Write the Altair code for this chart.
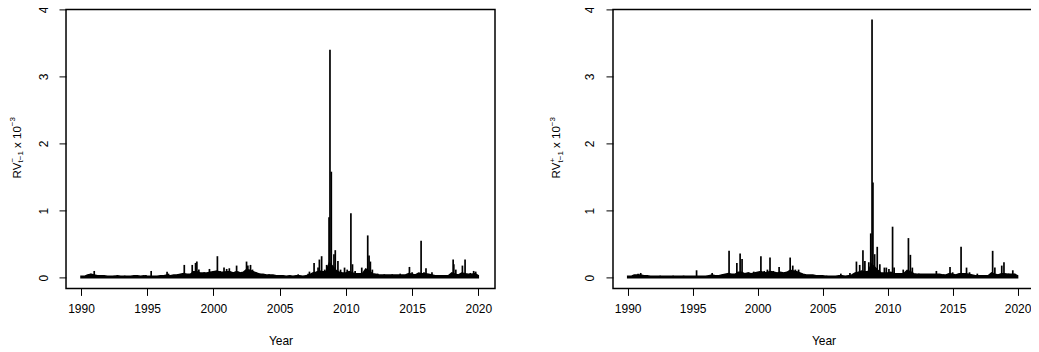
import altair as alt
import pandas as pd

# ---------------- data ----------------
YEAR_TICKS = [1990, 1995, 2000, 2005, 2010, 2015, 2020]
Y_TICKS = [0, 1, 2, 3, 4]

# quarterly envelope of the dense daily band (x 10^-3), 1990Q1 .. 2020Q1
NEG_ENV = [
    0.02, 0.02, 0.04, 0.05,  0.04, 0.03, 0.03, 0.03,  0.02, 0.02, 0.02, 0.03,
    0.02, 0.02, 0.02, 0.02,  0.03, 0.03, 0.02, 0.03,  0.02, 0.02, 0.02, 0.02,
    0.03, 0.03, 0.04, 0.03,  0.04, 0.04, 0.05, 0.06,  0.05, 0.05, 0.09, 0.09,
    0.07, 0.07, 0.07, 0.08,  0.09, 0.10, 0.08, 0.08,  0.09, 0.09, 0.07, 0.09,
    0.07, 0.08, 0.12, 0.11,  0.09, 0.07, 0.05, 0.05,  0.04, 0.04, 0.04, 0.03,
    0.03, 0.03, 0.02, 0.03,  0.02, 0.03, 0.03, 0.02,  0.03, 0.04, 0.07, 0.08,
    0.10, 0.09, 0.09, 0.22,  0.17, 0.11, 0.08, 0.07,  0.07, 0.09, 0.07, 0.06,
    0.06, 0.06, 0.13, 0.10,  0.06, 0.05, 0.04, 0.04,  0.04, 0.04, 0.04, 0.04,
    0.04, 0.04, 0.04, 0.06,  0.05, 0.04, 0.07, 0.06,  0.06, 0.05, 0.04, 0.03,
    0.03, 0.03, 0.03, 0.03,  0.07, 0.05, 0.04, 0.07,  0.06, 0.05, 0.05, 0.06,
    0.03,
]
POS_ENV = [
    0.02, 0.02, 0.04, 0.04,  0.04, 0.03, 0.03, 0.02,  0.02, 0.02, 0.02, 0.02,
    0.02, 0.02, 0.02, 0.02,  0.02, 0.02, 0.02, 0.02,  0.02, 0.02, 0.02, 0.02,
    0.02, 0.03, 0.04, 0.03,  0.03, 0.04, 0.05, 0.06,  0.05, 0.05, 0.08, 0.08,
    0.06, 0.07, 0.06, 0.07,  0.08, 0.09, 0.07, 0.08,  0.09, 0.08, 0.07, 0.08,
    0.07, 0.08, 0.11, 0.10,  0.09, 0.07, 0.05, 0.04,  0.04, 0.04, 0.03, 0.03,
    0.03, 0.02, 0.02, 0.02,  0.02, 0.03, 0.03, 0.02,  0.03, 0.04, 0.07, 0.08,
    0.10, 0.09, 0.09, 0.20,  0.16, 0.11, 0.07, 0.07,  0.07, 0.08, 0.06, 0.06,
    0.06, 0.06, 0.11, 0.09,  0.06, 0.05, 0.05, 0.05,  0.05, 0.05, 0.05, 0.05,
    0.05, 0.04, 0.04, 0.06,  0.05, 0.04, 0.06, 0.06,  0.06, 0.05, 0.04, 0.03,
    0.03, 0.03, 0.03, 0.03,  0.07, 0.05, 0.04, 0.06,  0.06, 0.05, 0.05, 0.05,
    0.03,
]

# individual spikes (year, value x 10^-3)
NEG_SPIKE_YEARS = [
    1990.75, 1991.0, 1991.3, 1992.5, 1993.3, 1994.2, 1994.9, 1995.3, 1996.5, 1996.6,
    1997.3, 1997.8, 1998.4, 1998.65, 1998.75, 1998.9, 1999.3, 1999.7, 2000.0, 2000.3,
    2000.5, 2000.8, 2001.0, 2001.2, 2001.4, 2001.75, 2001.9, 2002.5, 2002.6, 2002.8,
    2002.95, 2003.2, 2003.5, 2004.2, 2004.6, 2005.3, 2005.8, 2006.4, 2007.15, 2007.25,
    2007.6, 2007.9, 2008.0, 2008.17, 2008.4, 2008.55, 2008.73, 2008.8, 2008.9, 2009.1,
    2009.2, 2009.4, 2009.6, 2009.9, 2010.1, 2010.38, 2010.5, 2010.7, 2011.2, 2011.65,
    2011.75, 2011.85, 2012.0, 2012.4, 2012.9, 2013.5, 2014.1, 2014.8, 2015.0, 2015.68,
    2015.9, 2016.05, 2016.5, 2017.2, 2018.1, 2018.15, 2018.3, 2018.8, 2019.0, 2019.4,
    2019.65, 2019.8,
]
NEG_SPIKE_VALS = [
    0.06, 0.10, 0.04, 0.03, 0.03, 0.04, 0.04, 0.10, 0.09, 0.06,
    0.05, 0.19, 0.19, 0.22, 0.24, 0.12, 0.08, 0.13, 0.10, 0.32,
    0.10, 0.15, 0.13, 0.14, 0.08, 0.18, 0.09, 0.24, 0.18, 0.19,
    0.12, 0.08, 0.06, 0.05, 0.04, 0.03, 0.03, 0.05, 0.06, 0.09,
    0.22, 0.15, 0.27, 0.32, 0.12, 0.19, 0.90, 3.40, 1.58, 0.35,
    0.41, 0.25, 0.12, 0.15, 0.12, 0.96, 0.20, 0.10, 0.15, 0.63,
    0.33, 0.24, 0.12, 0.06, 0.05, 0.05, 0.06, 0.16, 0.08, 0.55,
    0.08, 0.14, 0.08, 0.04, 0.27, 0.20, 0.12, 0.18, 0.27, 0.07,
    0.10, 0.09,
]
POS_SPIKE_YEARS = [
    1990.8, 1991.0, 1991.3, 1992.5, 1993.5, 1994.3, 1995.3, 1996.5, 1997.3, 1997.8,
    1998.4, 1998.65, 1998.8, 1999.3, 1999.7, 2000.25, 2000.5, 2000.75, 2000.95, 2001.2,
    2001.65, 2002.5, 2002.7, 2002.9, 2003.15, 2003.5, 2004.3, 2005.3, 2006.4, 2007.1,
    2007.6, 2007.85, 2008.1, 2008.25, 2008.55, 2008.7, 2008.8, 2008.87, 2009.0, 2009.2,
    2009.4, 2009.75, 2009.9, 2010.1, 2010.38, 2010.5, 2011.2, 2011.6, 2011.75, 2011.9,
    2012.4, 2013.0, 2013.75, 2014.3, 2014.8, 2015.0, 2015.65, 2016.07, 2016.3, 2016.9,
    2017.5, 2018.08, 2018.25, 2018.78, 2018.95, 2019.3, 2019.63, 2019.8,
]
POS_SPIKE_VALS = [
    0.06, 0.07, 0.04, 0.03, 0.03, 0.03, 0.11, 0.07, 0.05, 0.40,
    0.22, 0.36, 0.28, 0.08, 0.09, 0.32, 0.10, 0.12, 0.30, 0.10,
    0.16, 0.30, 0.18, 0.12, 0.12, 0.05, 0.04, 0.03, 0.06, 0.07,
    0.24, 0.19, 0.41, 0.25, 0.23, 0.66, 3.85, 1.42, 0.35, 0.46,
    0.20, 0.15, 0.15, 0.13, 0.76, 0.15, 0.12, 0.59, 0.34, 0.15,
    0.06, 0.05, 0.10, 0.05, 0.16, 0.08, 0.46, 0.15, 0.08, 0.06,
    0.03, 0.40, 0.15, 0.18, 0.23, 0.06, 0.11, 0.06,
]

# ---------------- styling ----------------
FONT = "Liberation Sans"
FS = 12
TS = 11.5
SS = 8
X_DOMAIN = [1988.87, 2021.26]
Y_DOMAIN = [-0.16, 4.0]
W1, W2, H = 429, 421, 279


def title_layers(sign_char, cx):
    """y-axis title  RV^sign_{t-1} x 10^-3 built from pieces (rotated)."""
    start = 169.0
    pieces = [
        ("RV", start, cx, TS),
        (sign_char, start - 15.97, cx - 5.5, SS),
        ("t\u22121", start - 15.97, cx + 2.5, SS),
        ("x 10", start - 15.97 - 11.34 - 3.2, cx, TS),
        ("\u22123", start - 15.97 - 11.34 - 24.93, cx - 5.5, SS),
    ]
    layers = []
    for txt, yy, xx, size in pieces:
        layers.append(
            alt.Chart(pd.DataFrame({"t": [txt]}))
            .mark_text(angle=270, align="left", baseline="alphabetic",
                       font=FONT, fontSize=size, color="black")
            .encode(x=alt.value(xx), y=alt.value(yy), text="t:N")
        )
    return layers


def panel(env, sy, sv, sign_char, cx, width):
    env_df = pd.DataFrame({
        "year": [1990 + 0.25 * i for i in range(len(env))],
        "v": env,
        "zero": [0.0] * len(env),
    })
    spike_df = pd.DataFrame({"year": sy, "v": sv, "zero": [0.0] * len(sy)})

    x = alt.X("year:Q",
              scale=alt.Scale(domain=X_DOMAIN, nice=False, zero=False),
              axis=alt.Axis(values=YEAR_TICKS, format="d", title="Year",
                            tickSize=7, tickColor="black", tickWidth=1,
                            domain=False, grid=False, labelFlush=False,
                            labelFont=FONT, labelFontSize=FS, labelColor="black",
                            labelPadding=8, titleFont=FONT, titleFontSize=FS,
                            titleFontWeight="normal", titleColor="black",
                            titlePadding=21))
    y = alt.Y("v:Q",
              scale=alt.Scale(domain=Y_DOMAIN, nice=False, zero=False),
              axis=alt.Axis(values=Y_TICKS, format="d", title=None,
                            tickSize=7, tickColor="black", tickWidth=1,
                            domain=False, grid=False, labelFlush=False,
                            labelAngle=270, labelAlign="center",
                            labelBaseline="middle", labelPadding=16,
                            labelFont=FONT, labelFontSize=FS, labelColor="black"))

    area = alt.Chart(env_df).mark_area(color="black", stroke="black",
                                       strokeWidth=1.5).encode(
        x=x, y=y, y2="zero:Q")
    rules = alt.Chart(spike_df).mark_rule(color="black", strokeWidth=1.7).encode(
        x=x, y=y, y2="zero:Q")
    return alt.layer(area, rules, *title_layers(sign_char, cx)).properties(
        width=width, height=H)


left = panel(NEG_ENV, NEG_SPIKE_YEARS, NEG_SPIKE_VALS, "\u2212", -45.5, W1)
right = panel(POS_ENV, POS_SPIKE_YEARS, POS_SPIKE_VALS, "+", -52.5, W2)

chart = (
    alt.hconcat(left, right, spacing=52)
    .properties(padding={"left": 0, "top": -3.6, "right": -4, "bottom": 0},
                background="white")
    .configure_view(stroke="black", strokeWidth=1.5)
)

chart.save("out.html", embed_options={"renderer": "svg", "actions": False})
